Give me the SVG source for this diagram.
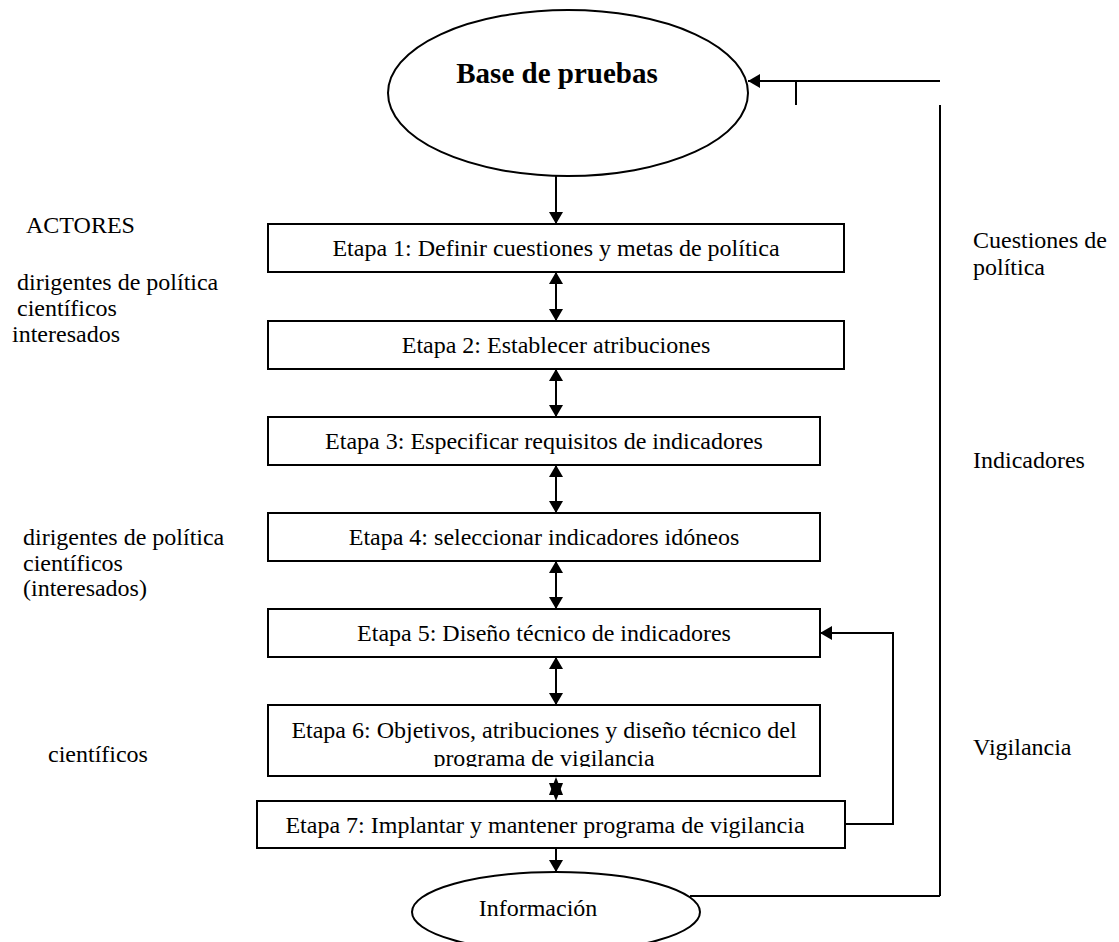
<svg xmlns="http://www.w3.org/2000/svg" width="1119" height="942" viewBox="0 0 1119 942">
<style>
  .t { font-family: "Liberation Serif", "Times New Roman", serif; font-size: 24px; fill: #000; }
  .c { text-anchor: middle; }
  .b { font-weight: bold; font-size: 29px; }
  .box { fill: #fff; stroke: #000; stroke-width: 2; }
  .ln { fill: none; stroke: #000; stroke-width: 2; }
  .hd { fill: #000; stroke: none; }
</style>
<defs>
  <marker id="ah" viewBox="0 0 12 14" refX="12" refY="7" markerWidth="12" markerHeight="14" markerUnits="userSpaceOnUse" orient="auto-start-reverse">
    <path d="M0,0 L12,7 L0,14 Z" fill="#000"/>
  </marker>
  <clipPath id="clip6"><rect x="268" y="705" width="552" height="62"/></clipPath>
</defs>
<rect width="1119" height="942" fill="#fff"/>

<g id="labels-left">
  <text class="t" x="26" y="233">ACTORES</text>
  <text class="t" x="17" y="290">dirigentes de política</text>
  <text class="t" x="17" y="316">científicos</text>
  <text class="t" x="12" y="342">interesados</text>
  <text class="t" x="23" y="545">dirigentes de política</text>
  <text class="t" x="23" y="571">científicos</text>
  <text class="t" x="23" y="596">(interesados)</text>
  <text class="t" x="48" y="762">científicos</text>
</g>
<g id="labels-right">
  <text class="t" x="973" y="248">Cuestiones de</text>
  <text class="t" x="973" y="275">política</text>
  <text class="t" x="973" y="468">Indicadores</text>
  <text class="t" x="973" y="755">Vigilancia</text>
</g>

<g id="connectors">
  <line class="ln" x1="556" y1="176" x2="556" y2="224" marker-end="url(#ah)"/>
  <line class="ln" x1="556" y1="272" x2="556" y2="321" marker-start="url(#ah)" marker-end="url(#ah)"/>
  <line class="ln" x1="556" y1="369" x2="556" y2="417" marker-start="url(#ah)" marker-end="url(#ah)"/>
  <line class="ln" x1="556" y1="465" x2="556" y2="513" marker-start="url(#ah)" marker-end="url(#ah)"/>
  <line class="ln" x1="556" y1="561" x2="556" y2="609" marker-start="url(#ah)" marker-end="url(#ah)"/>
  <line class="ln" x1="556" y1="657" x2="556" y2="705" marker-start="url(#ah)" marker-end="url(#ah)"/>
  <polygon class="hd" points="556,777 549,795 563,795"/>
  <polygon class="hd" points="556,801 549,783 563,783"/>
  <line class="ln" x1="556" y1="848" x2="556" y2="872" marker-end="url(#ah)"/>
  <polyline class="ln" points="845,824 893,824 893,633 820,633" marker-end="url(#ah)"/>
  <line class="ln" x1="940" y1="81" x2="748" y2="81" marker-end="url(#ah)"/>
  <line class="ln" x1="796" y1="81" x2="796" y2="105"/>
  <line class="ln" x1="940" y1="105" x2="940" y2="896"/>
  <line class="ln" x1="690" y1="896" x2="940" y2="896"/>
</g>

<g id="n-base">
  <ellipse class="ln" cx="568" cy="93" rx="180" ry="83"/>
  <text class="t b c" x="557" y="83">Base de pruebas</text>
</g>
<g id="n-etapa1">
  <rect class="box" x="268" y="224" width="576" height="48"/>
  <text class="t c" x="556" y="256">Etapa 1: Definir cuestiones y metas de política</text>
</g>
<g id="n-etapa2">
  <rect class="box" x="268" y="321" width="576" height="48"/>
  <text class="t c" x="556" y="353">Etapa 2: Establecer atribuciones</text>
</g>
<g id="n-etapa3">
  <rect class="box" x="268" y="417" width="552" height="48"/>
  <text class="t c" x="544" y="449">Etapa 3: Especificar requisitos de indicadores</text>
</g>
<g id="n-etapa4">
  <rect class="box" x="268" y="513" width="552" height="48"/>
  <text class="t c" x="544" y="545">Etapa 4: seleccionar indicadores idóneos</text>
</g>
<g id="n-etapa5">
  <rect class="box" x="268" y="609" width="552" height="48"/>
  <text class="t c" x="544" y="641">Etapa 5: Diseño técnico de indicadores</text>
</g>
<g id="n-etapa6">
  <rect class="box" x="268" y="705" width="552" height="71"/>
  <g clip-path="url(#clip6)">
    <text class="t c" x="544" y="738">Etapa 6: Objetivos, atribuciones y diseño técnico del</text>
    <text class="t c" x="544" y="766">programa de vigilancia</text>
  </g>
</g>
<g id="n-etapa7">
  <rect class="box" x="257" y="801" width="588" height="47"/>
  <text class="t c" x="545" y="833">Etapa 7: Implantar y mantener programa de vigilancia</text>
</g>
<g id="n-info">
  <ellipse class="ln" cx="556" cy="912" rx="144" ry="40"/>
  <text class="t c" x="538" y="916">Información</text>
</g>
</svg>
